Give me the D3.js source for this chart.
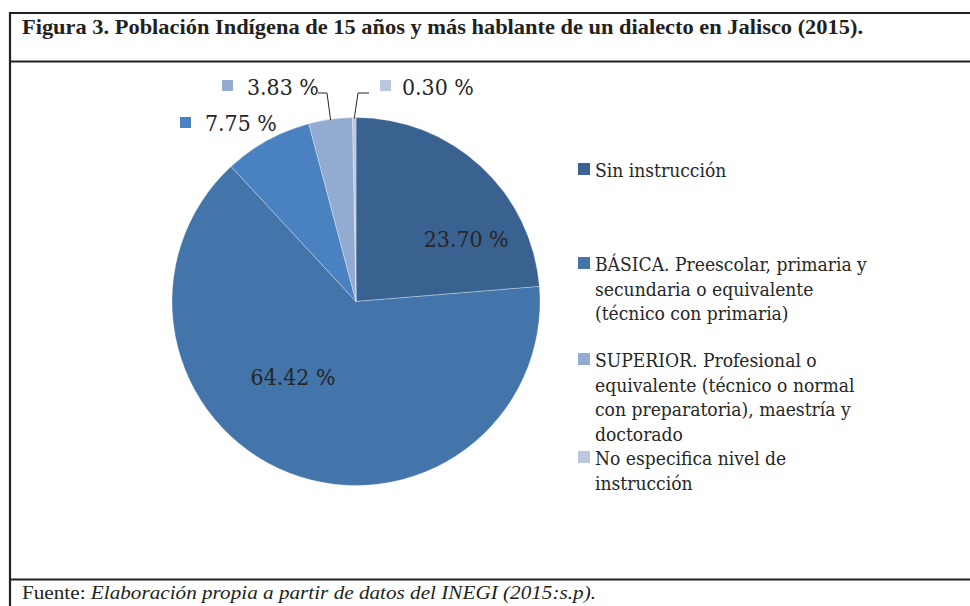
<!DOCTYPE html>
<html><head><meta charset="utf-8">
<script src="https://cdn.jsdelivr.net/npm/d3@7"></script>
<style>
html,body{margin:0;padding:0;background:#fff;}
svg{display:block;}
</style></head>
<body>
<svg id="chart" width="970" height="606"></svg>
<script>
// ---- data ----
const title = "Figura 3. Población Indígena de 15 años y más hablante de un dialecto en Jalisco (2015).";
const sourcePrefix = "Fuente: ";
const sourceText = "Elaboración propia a partir de datos del INEGI (2015:s.p).";
const categories = ["Sin instrucción", "BÁSICA", "MEDIA SUPERIOR", "SUPERIOR", "No especifica nivel de instrucción"];
const values = [23.70, 64.42, 7.75, 3.83, 0.30];
const valueLabels = ["23.70 %", "64.42 %", "7.75 %", "3.83 %", "0.30 %"];
const colors = ["#3a6291", "#4375ab", "#4a81c1", "#93aad1", "#bbc7e1"];
const legendIndex = [0, 1, 3, 4];
const legendLines = [
  ["Sin instrucción"],
  ["BÁSICA. Preescolar, primaria y", "secundaria o equivalente", "(técnico con primaria)"],
  ["SUPERIOR. Profesional o", "equivalente (técnico o normal", "con preparatoria), maestría y", "doctorado"],
  ["No especifica nivel de", "instrucción"]
];

// ---- layout ----
const svg = d3.select("#chart");
const serif = "'DejaVu Serif Condensed', 'DejaVu Serif', serif";
const cx = 356, cy = 301.5, R = 184;

function fitSize(str, family, target) {
  const t = svg.append("text").attr("font-family", family).attr("font-size", 100).text(str);
  const w = t.node().getComputedTextLength();
  t.remove();
  return 100 * target / w;
}
const legendSize = fitSize("BÁSICA. Preescolar, primaria y", serif, 272);
const valueSize = fitSize("23.70 %", serif, 85);

// frame
const frame = svg.append("g").attr("stroke", "#231f20").attr("stroke-width", 2.2);
frame.append("line").attr("x1", 9).attr("x2", 970).attr("y1", 13).attr("y2", 13);
frame.append("line").attr("x1", 9).attr("x2", 970).attr("y1", 61.5).attr("y2", 61.5);
frame.append("line").attr("x1", 9).attr("x2", 970).attr("y1", 579.5).attr("y2", 579.5);
frame.append("line").attr("x1", 10).attr("x2", 10).attr("y1", 12).attr("y2", 606);

svg.append("text").attr("x", 22).attr("y", 34)
  .attr("font-family", "'Liberation Serif', serif").attr("font-weight", "bold")
  .attr("font-size", 21).attr("fill", "#231f20")
  .attr("textLength", 841).attr("lengthAdjust", "spacingAndGlyphs")
  .text(title);

const src = svg.append("text").attr("x", 22).attr("y", 599)
  .attr("font-family", "'Liberation Serif', serif").attr("font-size", 19.5).attr("fill", "#231f20");
src.append("tspan").text(sourcePrefix);
src.append("tspan").attr("font-style", "italic").text(sourceText);
src.attr("textLength", 574).attr("lengthAdjust", "spacingAndGlyphs");

// pie
const pie = d3.pie().sort(null).value(d => d)(values);
const arc = d3.arc().innerRadius(0).outerRadius(R);
const g = svg.append("g").attr("transform", `translate(${cx},${cy})`);
g.selectAll("path").data(pie).join("path")
  .attr("d", arc)
  .attr("fill", (d, i) => colors[i])
  .attr("stroke", "#ffffff").attr("stroke-width", 0.6).attr("stroke-opacity", 0.5);

// inside labels (polar position config: degrees clockwise from top, radius)
const insidePos = {0: {a: 61, r: 126}, 1: {a: 219.5, r: 99}};
const txtColor = "#262626";
Object.keys(insidePos).forEach(k => {
  const p = insidePos[k], a = p.a * Math.PI / 180;
  g.append("text")
    .attr("x", p.r * Math.sin(a)).attr("y", -p.r * Math.cos(a) + 7)
    .attr("text-anchor", "middle")
    .attr("font-family", serif).attr("font-size", valueSize).attr("fill", txtColor)
    .text(valueLabels[k]);
});

// outside labels with keys
const outside = {
  2: {kx: 180, ky: 117, tx: 205, ty: 131},
  3: {kx: 222, ky: 80, tx: 247, ty: 95, elbow: [327, 93], end: [318, 93]},
  4: {kx: 380, ky: 80, tx: 402, ty: 95, elbow: [358, 93], end: [369, 93]}
};
Object.keys(outside).forEach(k => {
  const o = outside[k];
  svg.append("rect").attr("x", o.kx).attr("y", o.ky).attr("width", 11).attr("height", 11).attr("fill", colors[k]);
  svg.append("text").attr("x", o.tx).attr("y", o.ty)
    .attr("font-family", serif).attr("font-size", valueSize).attr("fill", txtColor)
    .text(valueLabels[k]);
  if (o.elbow) {
    const d = pie[k], m = (d.startAngle + d.endAngle) / 2;
    const px = cx + (R - 1) * Math.sin(m), py = cy - (R - 1) * Math.cos(m);
    svg.append("path")
      .attr("d", `M${px},${py}L${o.elbow[0]},${o.elbow[1]}L${o.end[0]},${o.end[1]}`)
      .attr("fill", "none").attr("stroke", "#262626").attr("stroke-width", 1);
  }
});

// legend
const lineH = 24.5;
const legendTop = [177, 271, 367, 465];
legendIndex.forEach((ci, j) => {
  const y0 = legendTop[j];
  svg.append("rect").attr("x", 578).attr("y", y0 - 14).attr("width", 12).attr("height", 12).attr("fill", colors[ci]);
  const t = svg.append("text").attr("font-family", serif).attr("font-size", legendSize).attr("fill", txtColor);
  legendLines[j].forEach((ln, li) => {
    t.append("tspan").attr("x", 595).attr("y", y0 + li * lineH).text(ln);
  });
});
</script>
</body></html>
